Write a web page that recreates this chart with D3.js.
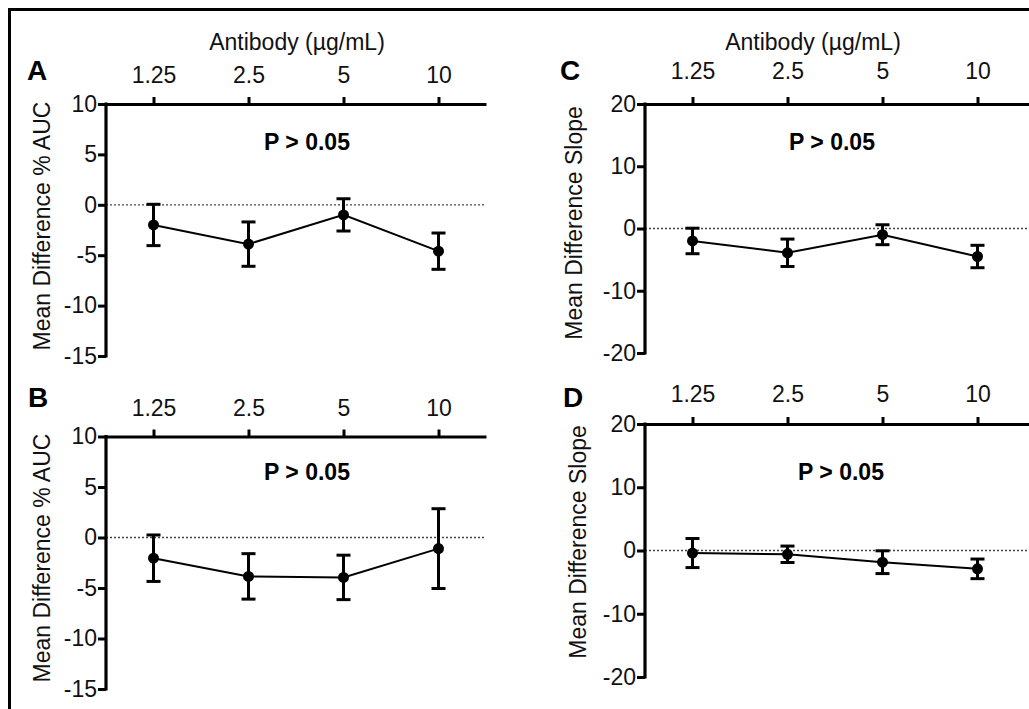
<!DOCTYPE html>
<html>
<head>
<meta charset="utf-8">
<script src="https://cdn.jsdelivr.net/npm/d3@7"></script>
<style>
  body { margin: 0; background: #fff; }
  svg { display: block; font-family: "Liberation Sans", Arial, sans-serif; }
  .tick text { font-size: 23px; fill: #111; }
</style>
</head>
<body>
<div id="box"></div>
<script>
// antibody doses on the top axis
const doses = ['1.25', '2.5', '5', '10']

// mean differences and error bar half lengths
const aucA_mean = [-2.0, -3.9, -1.0, -4.6]
const aucA_err  = [2.05, 2.2, 1.6, 1.8]
const aucB_mean = [-2.05, -3.85, -3.95, -1.1]
const aucB_err  = [2.3, 2.25, 2.2, 3.95]
const slopeC_mean = [-2.0, -3.9, -1.0, -4.5]
const slopeC_err  = [2.05, 2.2, 1.6, 1.8]
const slopeD_mean = [-0.4, -0.6, -1.85, -2.9]
const slopeD_err  = [2.3, 1.3, 1.8, 1.55]

const aucTicks = [10, 5, 0, -5, -10, -15]
const slopeTicks = [20, 10, 0, -10, -20]

const width = 1029
const height = 709

const svg = d3.select('#box').append('svg')
  .attr('width', width)
  .attr('height', height)

// frame, cut off at right and bottom like the original
svg.append('rect')
  .attr('x', 9.5).attr('y', 9.5)
  .attr('width', 1100).attr('height', 800)
  .attr('fill', 'none').attr('stroke', '#000').attr('stroke-width', 3)

const panels = [
  { letter: 'A', mean: aucA_mean, err: aucA_err, ticks: aucTicks, ylabel: 'Mean Difference % AUC',
    x0: 106, xSpan: 3.5, top: 104, bottom: 356, labPad: 14, title: true,
    letterX: 37, letterY: 80, ylabX: 42, ylabY: 226, pX: 307, pY: 150, abX: 297 },
  { letter: 'B', mean: aucB_mean, err: aucB_err, ticks: aucTicks, ylabel: 'Mean Difference % AUC',
    x0: 106, xSpan: 3.5, top: 436.5, bottom: 689, labPad: 14, title: false,
    letterX: 38, letterY: 407, ylabX: 42, ylabY: 558, pX: 307, pY: 480 },
  { letter: 'C', mean: slopeC_mean, err: slopeC_err, ticks: slopeTicks, ylabel: 'Mean Difference Slope',
    x0: 645, xSpan: 3.65, top: 104, bottom: 353, labPad: 18, title: true,
    letterX: 570, letterY: 80, ylabX: 574, ylabY: 223, pX: 832, pY: 150, abX: 813 },
  { letter: 'D', mean: slopeD_mean, err: slopeD_err, ticks: slopeTicks, ylabel: 'Mean Difference Slope',
    x0: 645, xSpan: 3.65, top: 424, bottom: 677, labPad: 15, title: false,
    letterX: 573, letterY: 407, ylabX: 578, ylabY: 542, pX: 841, pY: 480 }
]

const step = 95

panels.forEach(p => {
  const xScale = d3.scaleLinear()
    .domain([-0.5, p.xSpan])
    .range([p.x0, p.x0 + step * (p.xSpan + 0.5)])
  const yScale = d3.scaleLinear()
    .domain([d3.min(p.ticks), d3.max(p.ticks)])
    .range([p.bottom, p.top])

  const g = svg.append('g')

  // dotted zero line
  g.append('line')
    .attr('x1', xScale(-0.5)).attr('x2', xScale(p.xSpan))
    .attr('y1', yScale(0)).attr('y2', yScale(0))
    .attr('stroke', '#444').attr('stroke-width', 1.3)
    .attr('stroke-dasharray', '2,2')

  const xAxis = d3.axisTop(xScale)
    .tickValues([0, 1, 2, 3])
    .tickFormat(i => doses[i])
    .tickSize(7).tickSizeOuter(0).tickPadding(p.labPad)
  const yAxis = d3.axisLeft(yScale)
    .tickValues(p.ticks)
    .tickFormat(d => String(d))
    .tickSize(8).tickSizeOuter(0).tickPadding(1)

  const gx = g.append('g')
    .attr('transform', `translate(0, ${p.top})`)
    .call(xAxis)
  const gy = g.append('g')
    .attr('transform', `translate(${p.x0}, 0)`)
    .call(yAxis)

  ;[gx, gy].forEach(a => {
    a.select('.domain').attr('stroke-width', 3.2)
    a.selectAll('.tick line').attr('stroke-width', 3)
  })
  gy.select('.domain').attr('d', `M0,${p.top - 1.5}V${p.bottom + 1.5}`)

  // connecting line
  const line = d3.line()
    .x((d, i) => xScale(i))
    .y(d => yScale(d))
  g.append('path')
    .datum(p.mean)
    .attr('d', line)
    .attr('fill', 'none')
    .attr('stroke', '#000')
    .attr('stroke-width', 2)

  // error bars
  const bars = g.selectAll('.bar')
    .data(p.mean)
    .enter()
    .append('g')
  bars.append('line')
    .attr('x1', (d, i) => xScale(i)).attr('x2', (d, i) => xScale(i))
    .attr('y1', (d, i) => yScale(d + p.err[i]))
    .attr('y2', (d, i) => yScale(d - p.err[i]))
    .attr('stroke', '#000').attr('stroke-width', 3)
  ;[1, -1].forEach(s => {
    bars.append('line')
      .attr('x1', (d, i) => xScale(i) - 7).attr('x2', (d, i) => xScale(i) + 7)
      .attr('y1', (d, i) => yScale(d + s * p.err[i]))
      .attr('y2', (d, i) => yScale(d + s * p.err[i]))
      .attr('stroke', '#000').attr('stroke-width', 3)
  })
  bars.append('circle')
    .attr('cx', (d, i) => xScale(i))
    .attr('cy', d => yScale(d))
    .attr('r', 5.5)
    .attr('fill', '#000')

  // texts
  g.append('text')
    .text(p.letter)
    .attr('x', p.letterX).attr('y', p.letterY)
    .attr('text-anchor', 'middle')
    .style('font-size', '28px').style('font-weight', 'bold')

  g.append('text')
    .text(p.ylabel)
    .attr('transform', `translate(${p.ylabX}, ${p.ylabY}) rotate(-90)`)
    .attr('text-anchor', 'middle')
    .attr('dy', '0.35em')
    .style('font-size', '23px').attr('fill', '#111')

  g.append('text')
    .text('P > 0.05')
    .attr('x', p.pX).attr('y', p.pY)
    .attr('text-anchor', 'middle')
    .style('font-size', '23px').style('font-weight', 'bold')

  if (p.title) {
    g.append('text')
      .text('Antibody (\u00b5g/mL)')
      .attr('x', p.abX).attr('y', 50)
      .attr('text-anchor', 'middle')
      .style('font-size', '23px').attr('fill', '#111')
  }
})
</script>
</body>
</html>
